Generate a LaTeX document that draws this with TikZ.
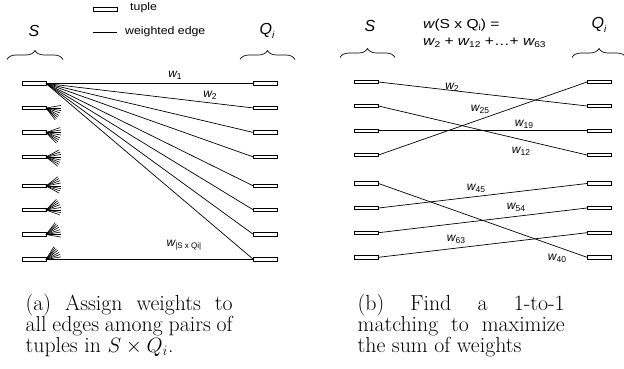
\documentclass[tikz,border=0pt]{standalone}
\usepackage{fontspec}
\usetikzlibrary{decorations.pathreplacing}
\newfontfamily\labfont{Liberation Sans}
% italic letter with a small upright subscript
\newcommand\wsub[2]{{\itshape #1}\raisebox{-0.35ex}{\fontsize{8.5}{9}\selectfont #2}}

\begin{document}
\begin{tikzpicture}[x=1pt,y=-1pt,
  tuple/.style={draw, line width=0.8pt, fill=white, minimum width=24pt,
    minimum height=3.6pt, inner sep=0pt, outer sep=0pt},
  edge/.style={line width=0.7pt},
  stub/.style={line width=0.6pt},
  lab/.style={font=\labfont\fontsize{12}{14}\selectfont, inner sep=0pt},
  legend/.style={font=\labfont\fontsize{11}{13}\selectfont, inner sep=0pt, anchor=west, xscale=1.12},
  head/.style={font=\labfont\fontsize{13}{15}\selectfont, inner sep=0pt, anchor=west, xscale=1.2},
  setname/.style={font=\labfont\itshape\fontsize{16}{18}\selectfont, inner sep=0pt},
  bracepath/.style={decorate, decoration={brace, amplitude=9pt}, line width=0.7pt},
  caption/.style={font=\fontsize{21.8}{21}\selectfont, text width=207pt,
    align=justify, inner sep=0pt, anchor=north west}
]
\useasboundingbox (0,0) rectangle (624,369);

% ---------- left panel: all edges ----------
\node[tuple] (legtuple) at (105,9.5) {};
\node[legend] (legtupletext) at (130,8) {tuple};
\coordinate (lega) at (93,32);
\coordinate (legb) at (117,32);
\draw[edge] (lega) -- (legb);
\node[legend] (legedgetext) at (125,32) {weighted edge};

\node[setname] (Sa) at (34,31) {S};
\node[setname] (Qa) at (267,31) {Q\raisebox{-0.4ex}{\fontsize{10}{12}\selectfont i}};
\coordinate (bra1) at (7,59.5);  \coordinate (bra2) at (63,59.5);
\coordinate (brb1) at (240,59.5); \coordinate (brb2) at (295,59.5);
\draw[bracepath] (bra1) -- (bra2);
\draw[bracepath] (brb1) -- (brb2);

\foreach \y [count=\i from 0] in {83.5,108,132.5,157,186,210,234.5,259.5} {
  \node[tuple] (L\i) at (34,\y) {};
  \node[tuple] (R\i) at (265.5,\y) {};
}
% every edge of the first tuple is drawn in full
\foreach \j in {0,...,7} { \draw[edge] (L0.east) -- (R\j.west); }
\draw[edge] (L7.east) -- (R7.west);
% the other tuples only show a short stub of each of their edges
\foreach \yi [count=\i from 0] in {83.5,108,132.5,157,186,210,234.5,259.5} {
  \ifnum\i>0
  \foreach \yj [count=\j from 0] in {83.5,108,132.5,157,186,210,234.5,259.5} {
    \pgfmathsetmacro\ang{1.45*atan2(\yj-\yi,207)}
    \draw[stub] (L\i.east) -- ++({15*cos(\ang)},{15*sin(\ang)});
  }
  \fi
}
\node[lab] (w1) at (175,75) {\wsub{w}{1}};
\node[lab] (w2a) at (210,95) {\wsub{w}{2}};
\node[lab] (wall) at (184,245) {{\itshape w}\raisebox{-0.35ex}{\fontsize{8}{9}\selectfont |S x Qi|}};

% ---------- right panel: 1-to-1 matching ----------
\node[setname] (Sb) at (370,26) {S};
\node[setname] (Qb) at (599,25) {Q\raisebox{-0.4ex}{\fontsize{10}{12}\selectfont i}};
\coordinate (brc1) at (340,57.5); \coordinate (brc2) at (395,57.5);
\coordinate (brd1) at (572,57.5); \coordinate (brd2) at (626,57.5);
\draw[bracepath] (brc1) -- (brc2);
\draw[bracepath] (brd1) -- (brd2);

\node[head] (total1) at (423,25) {{\itshape w}(S x Q\raisebox{-0.35ex}{\fontsize{8.5}{9}\selectfont i}) =};
\node[head] (total2) at (423,43) {\wsub{w}{2} + \wsub{w}{12} +…+ \wsub{w}{63}};

\foreach \y [count=\i from 0] in {82,106,130.7,155,183.5,208,232.7,257.3} {
  \node[tuple] (P\i) at (366.5,\y) {};
  \node[tuple] (Q\i) at (599,\y) {};
}
\foreach \a/\b in {0/1,1/3,2/2,3/0,4/7,5/4,6/5,7/6} {
  \draw[edge] (P\a.east) -- (Q\b.west);
}
\node[lab] (m2)  at (452,87)  {\wsub{w}{2}};
\node[lab] (m25) at (480,109) {\wsub{w}{25}};
\node[lab] (m19) at (524,124) {\wsub{w}{19}};
\node[lab] (m12) at (521,151) {\wsub{w}{12}};
\node[lab] (m45) at (476,188) {\wsub{w}{45}};
\node[lab] (m54) at (516,207) {\wsub{w}{54}};
\node[lab] (m63) at (456,239) {\wsub{w}{63}};
\node[lab] (m40) at (557,258) {\wsub{w}{40}};

% ---------- captions ----------
\node[caption] (capa) at (25.5,293.5) {(a) Assign weights to\linebreak all edges among pairs of\linebreak tuples in $S\times Q_i$.};
\node[caption] (capb) at (357.5,293.5) {(b) Find a 1-to-1\linebreak matching to maximize\linebreak the sum of weights};
\end{tikzpicture}
\end{document}
